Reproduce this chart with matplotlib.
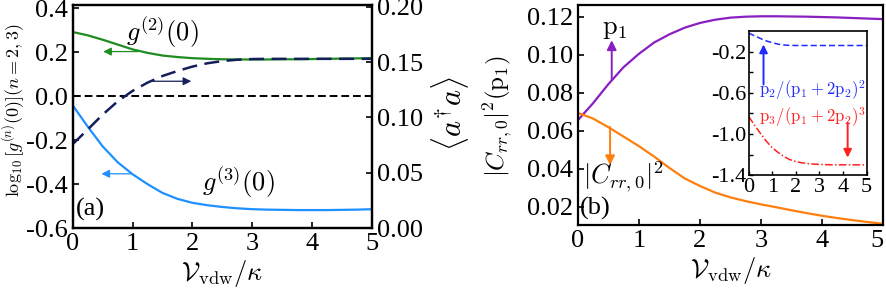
import matplotlib as mpl
mpl.use('Agg')
import matplotlib.pyplot as plt
import numpy as np

# x grid (V_vdw / kappa)
x = [0.0, 0.25, 0.5, 0.75, 1.0, 1.25, 1.5, 1.75, 2.0, 2.25, 2.5,
     2.75, 3.0, 3.25, 3.5, 3.75, 4.0, 4.25, 4.5, 4.75, 5.0]

# panel (a)
log_g2 = [0.292, 0.277, 0.257, 0.235, 0.213, 0.197, 0.185, 0.178, 0.173, 0.170, 0.168,
          0.167, 0.167, 0.167, 0.168, 0.168, 0.169, 0.170, 0.171, 0.172, 0.173]
log_g3 = [-0.041, -0.138, -0.228, -0.300, -0.355, -0.400, -0.440, -0.467, -0.485, -0.496, -0.504,
          -0.510, -0.514, -0.516, -0.517, -0.518, -0.518, -0.518, -0.517, -0.516, -0.514]
n_photon = [0.0758, 0.0890, 0.1025, 0.1145, 0.1240, 0.1315, 0.1375, 0.1420, 0.1460, 0.1490, 0.1510,
            0.1522, 0.1528, 0.1530, 0.1530, 0.1530, 0.1530, 0.1530, 0.1530, 0.1530, 0.1530]

# panel (b)
p1 = [0.0655, 0.0745, 0.0845, 0.0935, 0.1005, 0.1065, 0.1108, 0.1143, 0.1168, 0.1185, 0.1196,
      0.1201, 0.1203, 0.1203, 0.1202, 0.1201, 0.1199, 0.1197, 0.1194, 0.1191, 0.1188]
c_rr0 = [0.0695, 0.0665, 0.0620, 0.0570, 0.0520, 0.0465, 0.0405, 0.0350, 0.0310, 0.0275, 0.0250,
         0.0230, 0.0213, 0.0198, 0.0182, 0.0167, 0.0153, 0.0141, 0.0130, 0.0120, 0.0111]

# inset (b)
ratio2 = [-0.020, -0.045, -0.072, -0.095, -0.113, -0.127, -0.135, -0.139, -0.140, -0.140, -0.140,
          -0.140, -0.140, -0.140, -0.140, -0.140, -0.140, -0.140, -0.140, -0.140, -0.140]
ratio3 = [-0.830, -0.915, -0.995, -1.070, -1.135, -1.180, -1.220, -1.250, -1.268, -1.280, -1.288,
          -1.293, -1.296, -1.298, -1.300, -1.300, -1.300, -1.300, -1.300, -1.300, -1.300]

plt.rcParams['font.family'] = ['Liberation Serif', 'DejaVu Serif']
plt.rcParams['mathtext.fontset'] = 'cm'
plt.rcParams['axes.unicode_minus'] = False
plt.rcParams['axes.linewidth'] = 1.6

FS = 19
xlab = r'$\mathcal{V}_{\rm vdw}/\kappa$'

fig = plt.figure(figsize=(8.86, 2.88), dpi=100)

def arrow(ax, start, end, color, lw=0.9, ms=12):
	ax.annotate('', xy=end, xytext=start,
		arrowprops=dict(arrowstyle='-|>', color=color, lw=lw, mutation_scale=ms, shrinkA=0, shrinkB=0))

# ---- panel (a)
ax1 = fig.add_axes([0.082, 0.208, 0.338, 0.774])
ax1.plot(x, log_g2, color='#1e8c1e', lw=1.6)
ax1.plot(x, log_g3, color='#1e90ff', lw=1.6)
ax1.axhline(0.0, color='black', ls=(0, (4, 2)), lw=1.4)
ax1.set_xlim(0, 5)
ax1.set_ylim(-0.6, 0.414)
ax1.set_yticks([-0.6, -0.4, -0.2, 0.0, 0.2, 0.4])
ax1.set_yticklabels(['-0.6', '-0.4', '-0.2', '0.0', '0.2', '0.4'])
ax1.set_xticks([0, 1, 2, 3, 4, 5])
ax1.tick_params(direction='in', labelsize=FS, length=4, width=1.2)
ax1.set_xlabel(xlab, fontsize=FS, labelpad=2)
fig.text(0.015, 0.618, r'$\log_{10}[g^{(n)}(0)](n=2,3)$', fontsize=13,
	rotation=90, ha='center', va='center')

ax1b = ax1.twinx()
ax1b.plot(x, n_photon, color='#141e5a', lw=1.8, ls=(0, (6, 3)))
ax1b.set_ylim(0, 0.2015)
ax1b.set_yticks([0.0, 0.05, 0.10, 0.15, 0.20])
ax1b.set_yticklabels(['0.00', '0.05', '0.10', '0.15', '0.20'])
ax1b.tick_params(direction='in', labelsize=FS, length=4, width=1.2)
fig.text(0.508, 0.607, r'$\langle a^{\dagger}a\rangle$', fontsize=22,
	rotation=90, ha='center', va='center')

arrow(ax1, (1.09, 0.203), (0.51, 0.203), '#1e8c1e')
arrow(ax1, (0.98, -0.353), (0.48, -0.353), '#1e90ff')
arrow(ax1, (1.32, 0.068), (1.98, 0.068), '#141e5a')
ax1.text(1.5, 0.29, r'$g^{(2)}(0)$', fontsize=FS, ha='center', va='center')
ax1.text(2.76, -0.394, r'$g^{(3)}(0)$', fontsize=FS, ha='center', va='center')
ax1.text(0.29, -0.515, '(a)', fontsize=FS, ha='center', va='center')

# ---- panel (b)
ax2 = fig.add_axes([0.652, 0.219, 0.345, 0.764])
ax2.plot(x, p1, color='#8a1fbf', lw=1.6)
ax2.plot(x, c_rr0, color='#ff7f0e', lw=1.6)
ax2.set_xlim(0, 5)
ax2.set_ylim(0.0105, 0.1263)
ax2.set_yticks([0.02, 0.04, 0.06, 0.08, 0.10, 0.12])
ax2.set_yticklabels(['0.02', '0.04', '0.06', '0.08', '0.10', '0.12'])
ax2.set_xticks([0, 1, 2, 3, 4, 5])
ax2.tick_params(direction='in', labelsize=FS, length=4, width=1.2)
ax2.get_xticklabels()[-1].set_horizontalalignment('right')
ax2.set_xlabel(xlab, fontsize=FS, labelpad=2)
fig.text(0.562, 0.597, r'$|C_{rr,0}|^2(\mathrm{p}_1)$', fontsize=18,
	rotation=90, ha='center', va='center')

arrow(ax2, (0.557, 0.0867), (0.557, 0.1077), '#8a1fbf', lw=1.4, ms=14)
arrow(ax2, (0.53, 0.062), (0.53, 0.0419), '#ff7f0e', lw=1.4, ms=14)
ax2.text(0.61, 0.113, r'$\mathrm{p}_1$', fontsize=FS, ha='center', va='center')
ax2.text(0.75, 0.0356, r'$|C_{rr,0}|^2$', fontsize=FS, ha='center', va='center')
ax2.text(0.28, 0.0191, '(b)', fontsize=FS, ha='center', va='center')

# ---- inset
axi = fig.add_axes([0.845, 0.392, 0.133, 0.5])
axi.plot(x, ratio2, color='#1f2bff', lw=1.1, ls=(0, (4, 2)))
axi.plot(x, ratio3, color='#ff2020', lw=1.1, ls=(0, (5, 1.5, 1, 1.5)))
axi.set_xlim(0, 5)
axi.set_ylim(-1.4, 0.0)
axi.set_yticks([-1.4, -1.2, -1.0, -0.8, -0.6, -0.4, -0.2])
axi.set_yticklabels(['-1.4', '', '-1.0', '', '-0.6', '', '-0.2'])
axi.set_xticks([0, 1, 2, 3, 4, 5])
axi.tick_params(direction='in', labelsize=16, length=3, width=1.0, pad=2)
for s in axi.spines.values():
	s.set_linewidth(1.2)

arrow(axi, (0.63, -0.52), (0.63, -0.13), '#1f2bff', lw=1.4, ms=12)
arrow(axi, (4.2, -0.89), (4.2, -1.23), '#ff2020', lw=1.4, ms=12)
axi.text(0.45, -0.573, r'$\mathrm{p}_2/(\mathrm{p}_1+2\mathrm{p}_2)^2$', fontsize=12,
	color='#1f2bff', ha='left', va='center')
axi.text(0.45, -0.833, r'$\mathrm{p}_3/(\mathrm{p}_1+2\mathrm{p}_2)^3$', fontsize=12,
	color='#ff2020', ha='left', va='center')

plt.savefig('out.png', dpi=100)
